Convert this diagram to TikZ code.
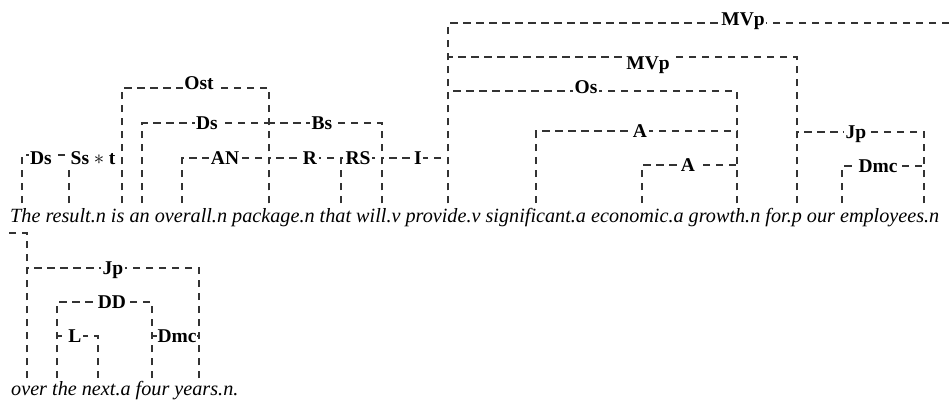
\documentclass[tikz,border=0pt]{standalone}
\usepackage{fontspec}
\setmainfont{Liberation Serif}
\usetikzlibrary{calc}
\begin{document}
\begin{tikzpicture}[x=1pt,y=-1pt,
  lnk/.style={draw=black!80, line width=1.2pt, dash pattern=on 7.5pt off 5.5pt},
  lab/.style={fill=white, inner xsep=1.5pt, inner ysep=1pt, font=\fontsize{19.5}{22}\selectfont\bfseries, text height=13pt, text depth=0pt},
  sent/.style={anchor=base west, inner sep=0pt, font=\fontsize{20.2}{24}\selectfont\itshape}]
\useasboundingbox (0,0) rectangle (949,402);
% sentence
\node[sent] (line1) at (10,222) {The result.n is an overall.n package.n that will.v provide.v significant.a economic.a growth.n for.p our employees.n};
\node[sent] (line2) at (11,395) {over the next.a four years.n.};
% word attachment points
\coordinate (pThe) at (22,203);
\coordinate (pResult) at (69,203);
\coordinate (pIs) at (122,203);
\coordinate (pAn) at (142,203);
\coordinate (pOverall) at (182,203);
\coordinate (pPackage) at (269,203);
\coordinate (pThat) at (341,203);
\coordinate (pWill) at (382,203);
\coordinate (pProvide) at (448,203);
\coordinate (pSignificant) at (536,203);
\coordinate (pEconomic) at (642,203);
\coordinate (pGrowth) at (737,203);
\coordinate (pFor) at (797,203);
\coordinate (pOur) at (842,203);
\coordinate (pEmployees) at (924,203);
\coordinate (pOut) at (949,23);
\coordinate (pIn) at (8,233);
\coordinate (pOver) at (27,378);
\coordinate (pTheB) at (57,378);
\coordinate (pNext) at (98,378);
\coordinate (pFour) at (152,378);
\coordinate (pYears) at (199,378);
% link levels at label positions
\coordinate (cDsA) at (41,155);
\coordinate (cSs) at (93,155);
\coordinate (cOst) at (199,88);
\coordinate (cDsB) at (207,123);
\coordinate (cBs) at (322,123);
\coordinate (cAN) at (225,158);
\coordinate (cR) at (310,158);
\coordinate (cRS) at (358,158);
\coordinate (cI) at (418,158);
\coordinate (cMVpA) at (743,23);
\coordinate (cMVpB) at (648,57);
\coordinate (cOs) at (586,91);
\coordinate (cAA) at (640,131);
\coordinate (cAB) at (688,165);
\coordinate (cJpA) at (856,132);
\coordinate (cDmcA) at (878,166);
\coordinate (cJpB) at (113,268);
\coordinate (cDD) at (112,302);
\coordinate (cL) at (75,336);
\coordinate (cDmcB) at (177,336);
% links
\draw[lnk] (pThe) |- (cDsA) (pResult) |- (cDsA);
\draw[lnk] (pResult) |- (cSs) (pIs) |- (cSs);
\draw[lnk] (pIs) |- (cOst) (pPackage) |- (cOst);
\draw[lnk] (pAn) |- (cDsB) (pPackage) |- (cDsB);
\draw[lnk] (pPackage) |- (cBs) (pWill) |- (cBs);
\draw[lnk] (pOverall) |- (cAN) (pPackage) |- (cAN);
\draw[lnk] (pPackage) |- (cR) (pThat) |- (cR);
\draw[lnk] (pThat) |- (cRS) (pWill) |- (cRS);
\draw[lnk] (pWill) |- (cI) (pProvide) |- (cI);
\draw[lnk] (pProvide) |- (cMVpA) (pOut) -- (cMVpA);
\draw[lnk] (pOver) |- (pIn);
\draw[lnk] (pProvide) |- (cMVpB) (pFor) |- (cMVpB);
\draw[lnk] (pProvide) |- (cOs) (pGrowth) |- (cOs);
\draw[lnk] (pSignificant) |- (cAA) (pGrowth) |- (cAA);
\draw[lnk] (pEconomic) |- (cAB) (pGrowth) |- (cAB);
\draw[lnk] (pFor) |- (cJpA) (pEmployees) |- (cJpA);
\draw[lnk] (pOur) |- (cDmcA) (pEmployees) |- (cDmcA);
\draw[lnk] (pOver) |- (cJpB) (pYears) |- (cJpB);
\draw[lnk] (pTheB) |- (cDD) (pFour) |- (cDD);
\draw[lnk] (pTheB) |- (cL) (pNext) |- (cL);
\draw[lnk] (pFour) |- (cDmcB) (pYears) |- (cDmcB);
% labels
\node[lab] (lDsA) at ($(cDsA)+(0,3)$) {Ds};
\node[lab, inner xsep=3pt, inner ysep=3pt] (lSs) at ($(cSs)+(0,3)$) {Ss${}\ast{}$t};
\node[lab] (lOst) at ($(cOst)+(0,-5.5)$) {Ost};
\node[lab] (lDsB) at (cDsB) {Ds};
\node[lab] (lBs) at (cBs) {Bs};
\node[lab] (lAN) at (cAN) {AN};
\node[lab] (lR) at (cR) {R};
\node[lab] (lRS) at (cRS) {RS};
\node[lab] (lI) at (cI) {I};
\node[lab] (lMVpA) at ($(cMVpA)+(0,-4.5)$) {MVp};
\node[lab] (lMVpB) at ($(cMVpB)+(0,5.5)$) {MVp};
\node[lab] (lOs) at ($(cOs)+(0,-4.5)$) {Os};
\node[lab] (lAA) at (cAA) {A};
\node[lab] (lAB) at (cAB) {A};
\node[lab] (lJpA) at (cJpA) {Jp};
\node[lab] (lDmcA) at (cDmcA) {Dmc};
\node[lab] (lJpB) at (cJpB) {Jp};
\node[lab] (lDD) at (cDD) {DD};
\node[lab] (lL) at (cL) {L};
\node[lab, inner xsep=0.8pt] (lDmcB) at (cDmcB) {Dmc};
\end{tikzpicture}
\end{document}
